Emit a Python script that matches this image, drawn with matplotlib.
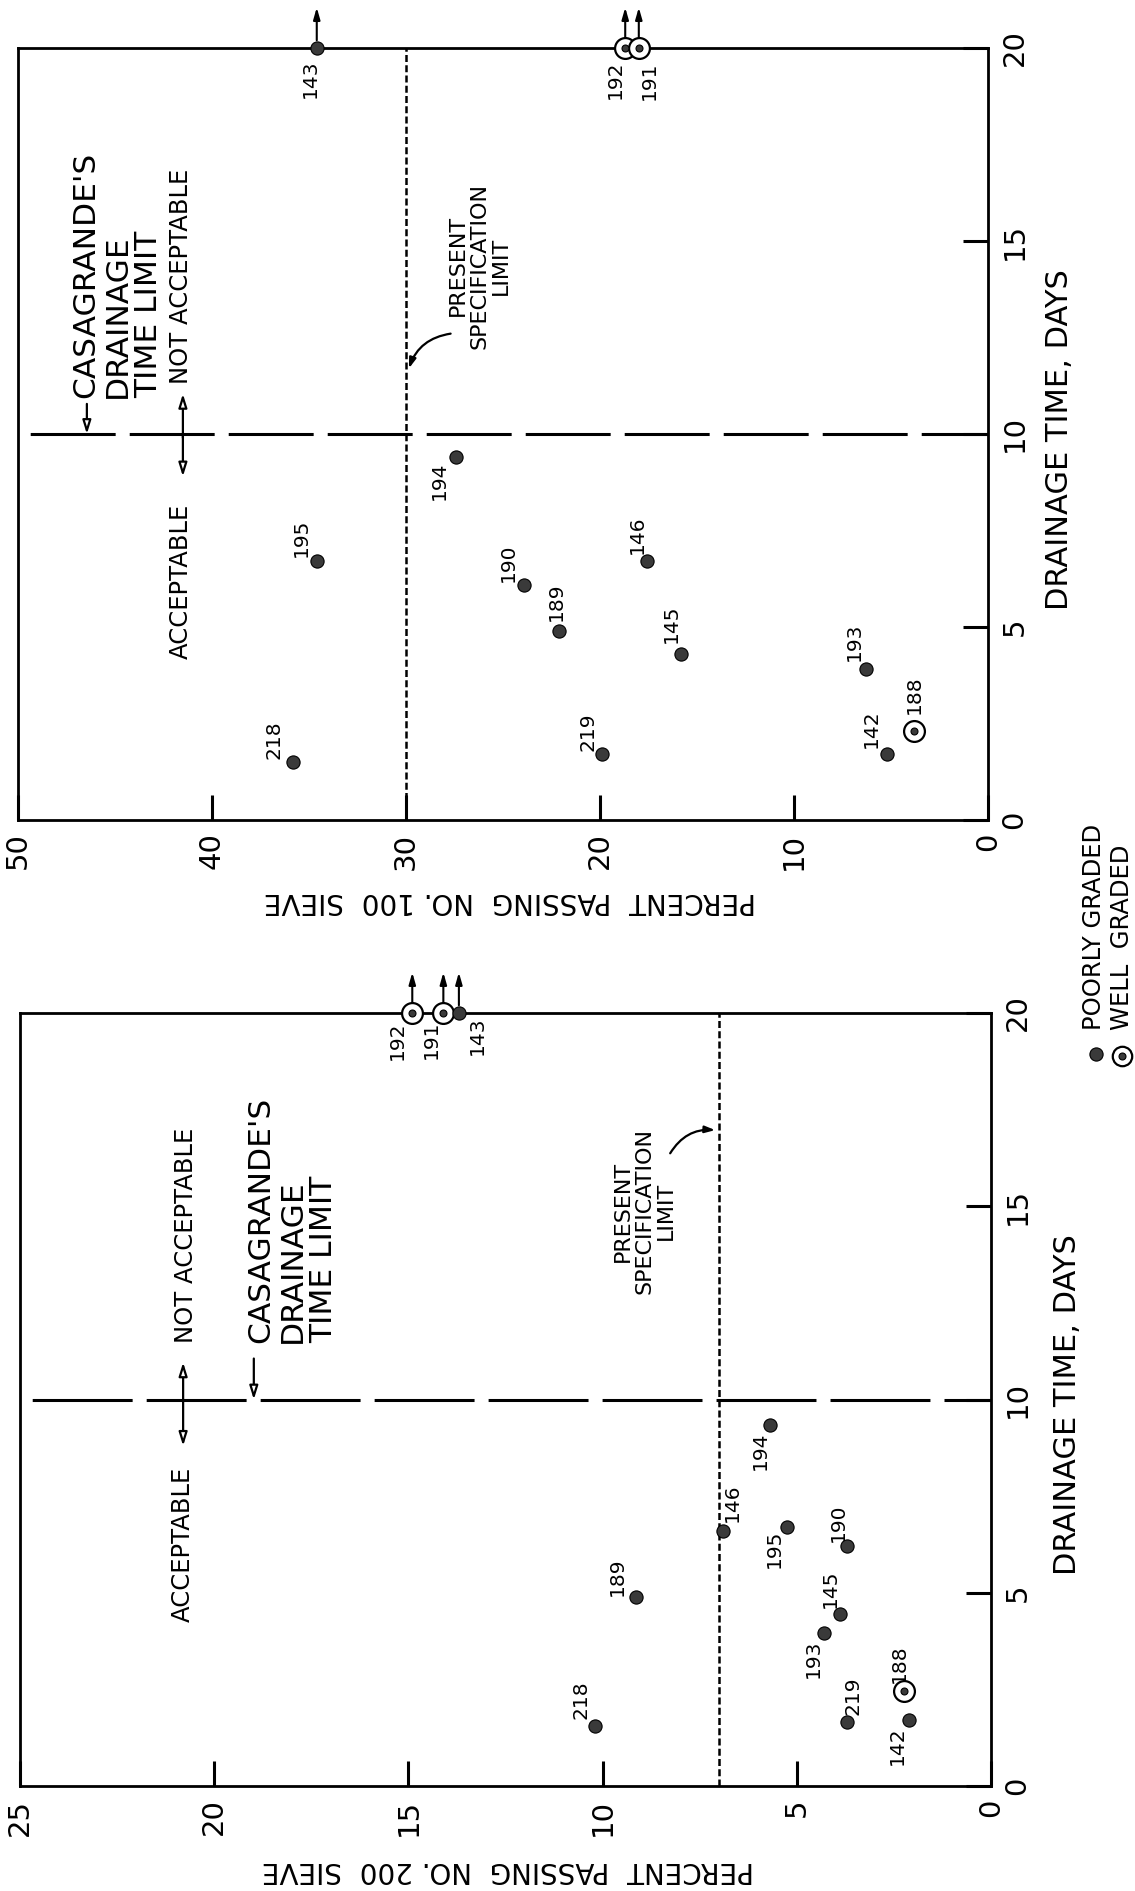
import matplotlib
matplotlib.use("Agg")
import matplotlib.pyplot as plt
from matplotlib.lines import Line2D

W, H, DPI = 1135, 1891, 100

# ---- No. 100 sieve panel (upper) ----
s100_ids = ["218", "195", "194", "190", "189", "219", "146", "145", "193", "142", "188"]
s100_pct = [35.8, 34.6, 27.4, 23.9, 22.1, 19.9, 17.6, 15.8, 6.3, 5.2, 3.8]
s100_days = [1.5, 6.7, 9.4, 6.1, 4.9, 1.7, 6.7, 4.3, 3.9, 1.7, 2.3]
s100_top_ids = ["143", "192", "191"]
s100_top_pct = [34.6, 18.7, 18.0]

# ---- No. 200 sieve panel (lower) ----
s200_ids = ["218", "189", "146", "194", "195", "190", "145", "193", "219", "188", "142"]
s200_pct = [10.2, 9.15, 6.9, 5.7, 5.25, 3.7, 3.9, 4.3, 3.7, 2.25, 2.1]
s200_days = [1.55, 4.9, 6.6, 9.35, 6.7, 6.2, 4.45, 3.95, 1.65, 2.45, 1.7]
s200_top_ids = ["192", "191", "143"]
s200_top_pct = [14.9, 14.1, 13.7]

well_graded = {"188", "191", "192"}
day_ticks = [0, 5, 10, 15, 20]
time_limit = 10
spec_100 = 30
spec_200 = 7
over_limit = 20

# label offsets in pixels (right, up) for each sample
off100 = {"194": (-17, -24), "195": (-15, 24), "190": (-16, 22), "189": (-3, 29),
          "218": (-19, 22), "219": (-14, 23), "146": (-9, 27), "145": (-10, 30),
          "193": (-11, 28), "142": (-16, 26), "188": (0, 37),
          "143": (-6, -31), "192": (-10, -32), "191": (11, -33)}
off200 = {"194": (-9, -26), "146": (9, 28), "195": (-13, -22), "190": (-9, 24),
          "189": (-18, 20), "145": (-9, 25), "193": (-11, -25), "219": (6, 26),
          "188": (-4, 28), "142": (-12, -25), "218": (-14, 26),
          "192": (-15, -28), "191": (-12, -27), "143": (18, -23)}

DOT = "#3a3a3a"


def fx(px):
    return px / W


def fy(py):
    return 1 - py / H


def draw_marker(ax, x, y, sid, **kw):
    if sid in well_graded:
        ax.plot(x, y, marker="o", ms=15, mfc="white", mec="black", mew=1.6, ls="none", zorder=4, **kw)
        ax.plot(x, y, marker="o", ms=5, mfc=DOT, mec="black", mew=0.8, ls="none", zorder=5, **kw)
    else:
        ax.plot(x, y, marker="o", ms=9.5, mfc=DOT, mec="black", mew=0.8, ls="none", zorder=4, **kw)


def setup(ax, pct_max, pct_step, spec, dash_on, dash_off):
    ax.set_xlim(pct_max, 0)
    ax.set_ylim(0, 20)
    ax.set_xticks(list(range(0, pct_max + 1, pct_step)))
    ax.set_yticks(day_ticks)
    ax.yaxis.tick_right()
    ax.tick_params(direction="in", length=18, width=2.2, labelsize=21, pad=9)
    ax.tick_params(axis="x", labelrotation=90)
    ax.tick_params(axis="y", labelrotation=90)
    for lbl in ax.get_yticklabels():
        lbl.set_verticalalignment("center")
    for sp in ax.spines.values():
        sp.set_linewidth(2)
    ax.axhline(time_limit, color="black", lw=2.2,
               linestyle=(dash_on + dash_off - 4, (dash_on, dash_off)), zorder=2)
    ax.axvline(spec, color="black", lw=1.8, linestyle=(0, (2.8, 1.3)), zorder=2)


def points(ax, ids, pct, days, top_ids, top_pct, offs):
    for sid, p, d in zip(ids, pct, days):
        draw_marker(ax, p, d, sid)
        ax.annotate(sid, (p, d), xytext=offs[sid], textcoords="offset pixels",
                    rotation=90, ha="center", va="center", fontsize=14.5)
    for sid, p in zip(top_ids, top_pct):
        draw_marker(ax, p, over_limit, sid, clip_on=False)
        ax.annotate("", xy=(p, over_limit + 1.05), xytext=(p, over_limit + 0.2),
                    arrowprops=dict(arrowstyle="-|>,head_length=0.7,head_width=0.2",
                                    color="black", lw=1.5, shrinkA=0, shrinkB=0),
                    annotation_clip=False)
        ax.annotate(sid, (p, over_limit), xytext=offs[sid], textcoords="offset pixels",
                    rotation=90, ha="center", va="center", fontsize=14.5,
                    annotation_clip=False)


def arrow(ax, x, y0, y1, style="-|>"):
    ax.annotate("", xy=(x, y1), xytext=(x, y0),
                arrowprops=dict(arrowstyle=style + ",head_length=0.8,head_width=0.25",
                                fc="white", ec="black", lw=1.6, shrinkA=0, shrinkB=0))


fig = plt.figure(figsize=(W / DPI, H / DPI), dpi=DPI)
fig.patch.set_facecolor("white")

ax1 = fig.add_axes([fx(18), fy(820), fx(988) - fx(18), fy(48) - fy(820)])
ax2 = fig.add_axes([fx(20), fy(1786), fx(991) - fx(20), fy(1013) - fy(1786)])

setup(ax1, 50, 10, spec_100, 27.8, 4.6)
setup(ax2, 25, 5, spec_200, 32.7, 4.6)

points(ax1, s100_ids, s100_pct, s100_days, s100_top_ids, s100_top_pct, off100)
points(ax2, s200_ids, s200_pct, s200_days, s200_top_ids, s200_top_pct, off200)

# ---- upper panel annotations ----
ax1.text(44.9, 10.94, "CASAGRANDE'S\nDRAINAGE\nTIME LIMIT", rotation=90, ha="center",
         va="bottom", multialignment="left", fontsize=22.5, linespacing=1.1)
arrow(ax1, 46.45, 10.78, 10.0)
ax1.text(41.6, 11.3, "NOT ACCEPTABLE", rotation=90, ha="center", va="bottom", fontsize=17.5)
arrow(ax1, 41.5, 9.9, 11.04)
arrow(ax1, 41.5, 10.0, 8.9)
ax1.text(41.6, 8.2, "ACCEPTABLE", rotation=90, ha="center", va="top", fontsize=17.5)
ax1.text(26.2, 14.36, "PRESENT\nSPECIFICATION\nLIMIT", rotation=90, ha="center",
         va="center", multialignment="center", fontsize=16, linespacing=1.1)
ax1.annotate("", xy=(29.85, 11.7), xytext=(27.7, 12.6),
             arrowprops=dict(arrowstyle="-|>,head_length=0.6,head_width=0.2",
                             connectionstyle="arc3,rad=0.3", fc="black", ec="black",
                             lw=1.6, shrinkA=0, shrinkB=0))

# ---- lower panel annotations ----
ax2.text(20.73, 11.45, "NOT ACCEPTABLE", rotation=90, ha="center", va="bottom", fontsize=17.5)
ax2.text(18.0, 11.45, "CASAGRANDE'S\nDRAINAGE\nTIME LIMIT", rotation=90, ha="center",
         va="bottom", multialignment="left", fontsize=22.5, linespacing=1.1)
arrow(ax2, 18.98, 11.06, 10.0)
arrow(ax2, 20.8, 10.0, 10.96)
arrow(ax2, 20.8, 10.0, 8.8)
ax2.text(20.8, 8.26, "ACCEPTABLE", rotation=90, ha="center", va="top", fontsize=17.5)
ax2.text(8.93, 14.87, "PRESENT\nSPECIFICATION\nLIMIT", rotation=90, ha="center",
         va="center", multialignment="center", fontsize=16, linespacing=1.1)
ax2.annotate("", xy=(7.1, 16.97), xytext=(8.26, 16.37),
             arrowprops=dict(arrowstyle="-|>,head_length=0.6,head_width=0.2",
                             connectionstyle="arc3,rad=-0.3", fc="black", ec="black",
                             lw=1.6, shrinkA=0, shrinkB=0))

# ---- axis titles ----
fig.text(fx(1060), fy(440), "DRAINAGE TIME, DAYS", rotation=90, ha="center", va="center", fontsize=22)
fig.text(fx(1068), fy(1405), "DRAINAGE TIME, DAYS", rotation=90, ha="center", va="center", fontsize=22)
fig.text(fx(510), fy(901), "PERCENT  PASSING  NO. 100  SIEVE", rotation=180, ha="center",
         va="center", fontsize=20)
fig.text(fx(508), fy(1870), "PERCENT  PASSING  NO. 200  SIEVE", rotation=180, ha="center",
         va="center", fontsize=20)

# ---- legend ----
fig.add_artist(Line2D([fx(1096)], [fy(1054)], marker="o", ms=9.5, mfc=DOT, mec="black",
                      mew=0.8, transform=fig.transFigure))
fig.add_artist(Line2D([fx(1122)], [fy(1056)], marker="o", ms=14, mfc="white", mec="black",
                      mew=1.6, transform=fig.transFigure))
fig.add_artist(Line2D([fx(1122)], [fy(1056)], marker="o", ms=5, mfc=DOT, mec="black",
                      mew=0.8, transform=fig.transFigure))
fig.text(fx(1094), fy(1030), "POORLY GRADED", rotation=90, ha="center", va="bottom", fontsize=17.5)
fig.text(fx(1122), fy(1030), "WELL  GRADED", rotation=90, ha="center", va="bottom", fontsize=17.5)

fig.savefig("out.png", dpi=DPI, facecolor="white")
